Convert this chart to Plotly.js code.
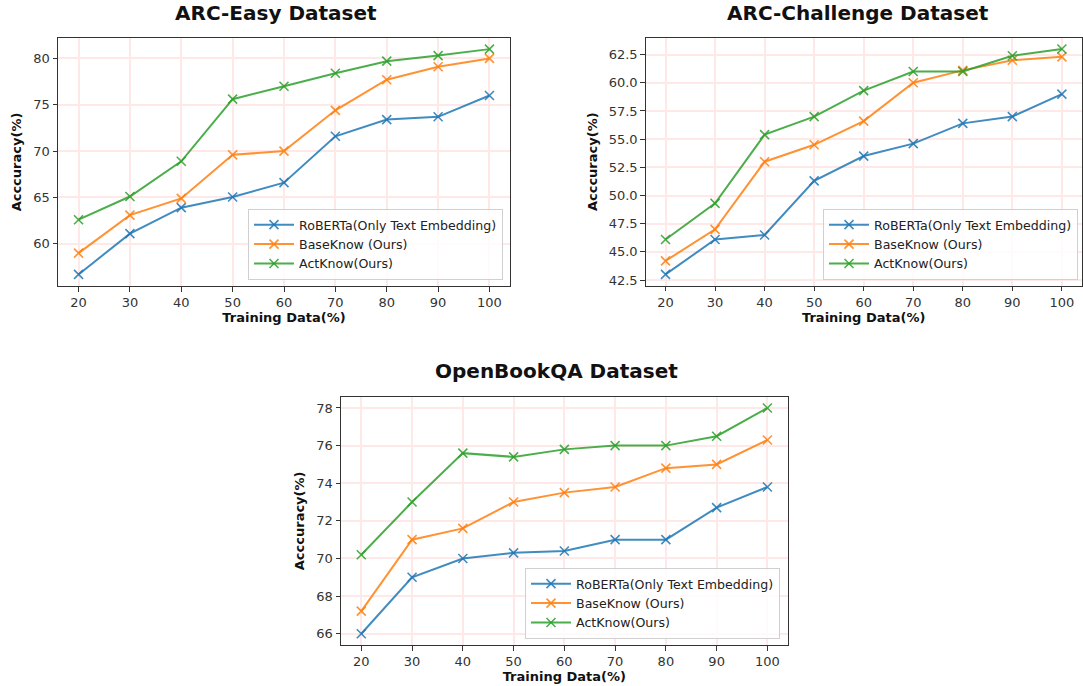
<!DOCTYPE html>
<html>
<head>
<meta charset="utf-8">
<script src="https://cdn.plot.ly/plotly-3.0.1.min.js"></script>
<style>html,body{margin:0;padding:0;background:#fff;}#chart{width:1083px;height:686px;}</style>
</head>
<body>
<div id="chart"></div>
<script>
const trainingData = [20, 30, 40, 50, 60, 70, 80, 90, 100];
const seriesNames = ["RoBERTa(Only Text Embedding)", "BaseKnow (Ours)", "ActKnow(Ours)"];

const easyRoberta = [56.7, 61.1, 63.9, 65.05, 66.6, 71.6, 73.4, 73.7, 76.0];
const easyBase    = [59.0, 63.1, 64.9, 69.6, 70.0, 74.4, 77.7, 79.1, 80.0];
const easyAct     = [62.6, 65.1, 68.9, 75.6, 77.0, 78.4, 79.7, 80.3, 81.0];

const chalRoberta = [43.0, 46.1, 46.5, 51.3, 53.5, 54.6, 56.4, 57.0, 59.0];
const chalBase    = [44.2, 47.0, 53.0, 54.5, 56.6, 60.0, 61.1, 62.0, 62.3];
const chalAct     = [46.1, 49.3, 55.4, 57.0, 59.3, 61.0, 61.0, 62.4, 63.0];

const obqaRoberta = [66.0, 69.0, 70.0, 70.3, 70.4, 71.0, 71.0, 72.7, 73.8];
const obqaBase    = [67.2, 71.0, 71.6, 73.0, 73.5, 73.8, 74.8, 75.0, 76.3];
const obqaAct     = [70.2, 73.0, 75.6, 75.4, 75.8, 76.0, 76.0, 76.5, 78.0];

const easyTicks = [60, 65, 70, 75, 80];
const chalTicks = [42.5, 45, 47.5, 50, 52.5, 55, 57.5, 60, 62.5];
const obqaTicks = [66, 68, 70, 72, 74, 76, 78];

const titles = ["ARC-Easy Dataset", "ARC-Challenge Dataset", "OpenBookQA Dataset"];
const xTitle = "Training Data(%)";
const yTitle = "Acccuracy(%)";

const colors = ["rgba(31,119,180,0.85)", "rgba(255,127,14,0.85)", "rgba(44,160,44,0.85)"];

const W = 1083, H = 686;
const px = v => v / W;
const py = v => (H - v) / H;

const groups = [
  {vals: [easyRoberta, easyBase, easyAct], xa: "x", ya: "y", legend: "legend"},
  {vals: [chalRoberta, chalBase, chalAct], xa: "x2", ya: "y2", legend: "legend2"},
  {vals: [obqaRoberta, obqaBase, obqaAct], xa: "x3", ya: "y3", legend: "legend3"}
];

const traces = [];
groups.forEach(g => {
  g.vals.forEach((v, i) => {
    traces.push({
      type: "scatter", mode: "lines+markers",
      x: trainingData, y: v, name: seriesNames[i],
      xaxis: g.xa, yaxis: g.ya, legend: g.legend,
      line: {color: colors[i], width: 2},
      marker: {symbol: "x-thin", size: 9, line: {color: colors[i], width: 1.6}, color: colors[i]}
    });
  });
});

const font = {family: "DejaVu Sans", size: 13, color: "#222"};
const gridColor = "#ffe8e8";

function xaxis(domain, anchor) {
  return {
    domain: domain, anchor: anchor, range: [16, 104],
    tickvals: trainingData, ticks: "outside", ticklen: 4.5, tickcolor: "#333",
    showline: true, linecolor: "#333", linewidth: 1, mirror: true,
    showgrid: true, gridcolor: gridColor, gridwidth: 2, zeroline: false,
    tickfont: {family: "DejaVu Sans", size: 13, color: "#333"},
    title: {text: xTitle, font: {family: "DejaVu Sans", size: 13, color: "#111", weight: "bold"}, standoff: 0}
  };
}
function yaxis(domain, anchor, range, ticks, fmt) {
  return {
    domain: domain, anchor: anchor, range: range,
    tickvals: ticks, ticktext: ticks.map(t => fmt ? t.toFixed(1) : String(t)),
    ticks: "outside", ticklen: 4.5, tickcolor: "#333",
    showline: true, linecolor: "#333", linewidth: 1, mirror: true,
    showgrid: true, gridcolor: gridColor, gridwidth: 2, zeroline: false,
    tickfont: {family: "DejaVu Sans", size: 13, color: "#333"},
    title: {text: yTitle, font: {family: "DejaVu Sans", size: 13, color: "#111", weight: "bold"}, standoff: 8}
  };
}
function legend(xr, yb) {
  return {
    x: xr, y: yb, xanchor: "right", yanchor: "bottom",
    bgcolor: "rgba(255,255,255,0.8)", bordercolor: "#d0d0d0", borderwidth: 1,
    font: {family: "DejaVu Sans", size: 12.6, color: "#222"},
    tracegroupgap: 0, itemwidth: 40
  };
}

const titleFont = {family: "DejaVu Sans", size: 20, color: "#111", weight: "bold"};
const layout = {
  width: W, height: H, margin: {l: 0, r: 0, t: 0, b: 0},
  paper_bgcolor: "#fff", plot_bgcolor: "#fff", font: font,
  showlegend: true,
  xaxis: xaxis([px(58), px(510)], "y"),
  yaxis: yaxis([py(286), py(38)], "x", [55.45, 82.2], easyTicks, false),
  xaxis2: xaxis([px(645.7), px(1081.7)], "y2"),
  yaxis2: yaxis([py(285.7), py(37.7)], "x2", [42.0, 64.0], chalTicks, true),
  xaxis3: xaxis([px(341), px(787.7)], "y3"),
  yaxis3: yaxis([py(645), py(396.7)], "x3", [65.4, 78.6], obqaTicks, false),
  legend: legend(px(503), py(280)),
  legend2: legend(px(1078), py(280)),
  legend3: legend(px(780), py(639)),
  annotations: [
    {text: titles[0], x: px(276), y: py(13), xref: "paper", yref: "paper", showarrow: false,
     font: titleFont, xanchor: "center", yanchor: "middle"},
    {text: titles[1], x: px(858), y: py(13), xref: "paper", yref: "paper", showarrow: false,
     font: titleFont, xanchor: "center", yanchor: "middle"},
    {text: titles[2], x: px(556), y: py(371), xref: "paper", yref: "paper", showarrow: false,
     font: titleFont, xanchor: "center", yanchor: "middle"}
  ]
};

Plotly.newPlot("chart", traces, layout, {displayModeBar: false, staticPlot: true});
</script>
</body>
</html>
